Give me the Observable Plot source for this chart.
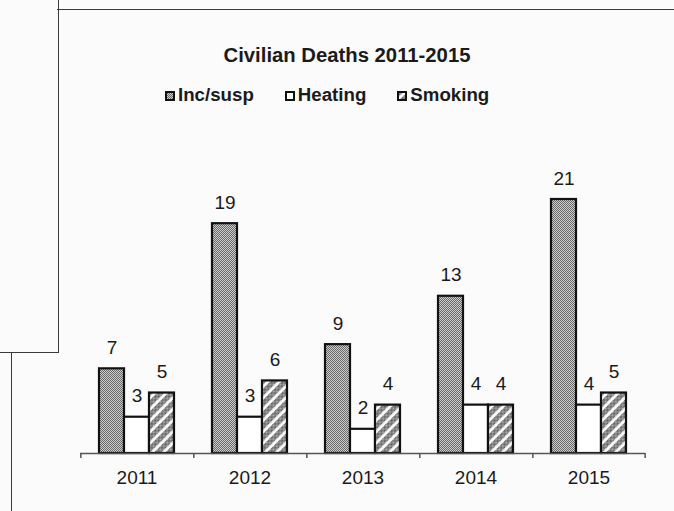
<!DOCTYPE html>
<html>
<head>
<meta charset="utf-8">
<script src="https://cdn.jsdelivr.net/npm/d3@7"></script>
<script src="https://cdn.jsdelivr.net/npm/@observablehq/plot@0.6"></script>
<style>
  html, body { margin: 0; padding: 0; background: #fbfbfb; }
  #wrap { position: relative; width: 674px; height: 511px; overflow: hidden; font-family: "Liberation Sans", Arial, sans-serif; color: #1a1a1a; }
  .line { position: absolute; background: #3a3a3a; }
  #title { position: absolute; top: 45px; left: 0; width: 694px; text-align: center; font-weight: bold; font-size: 20.3px; line-height: 20px; white-space: nowrap; }
  #legend { position: absolute; top: 86px; left: 165px; display: flex; align-items: baseline; font-weight: bold; font-size: 18.7px; line-height: 18.5px; white-space: nowrap; }
  .item { display: flex; align-items: baseline; margin-right: 31px; }
  .item svg { width: 10px; height: 10px; margin-right: 3px; position: relative; top: 0px; }
  #chart { position: absolute; left: 0; top: 120px; }
</style>
</head>
<body>
<div id="wrap">
  <svg width="0" height="0" style="position:absolute">
    <defs>
      <pattern id="incPat" patternUnits="userSpaceOnUse" width="2" height="2">
        <rect width="2" height="2" fill="#cccccc"></rect>
        <rect x="0" y="0" width="1" height="1" fill="#6a6a6a"></rect>
        <rect x="1" y="1" width="1" height="1" fill="#6a6a6a"></rect>
      </pattern>
      <pattern id="smkTex" patternUnits="userSpaceOnUse" width="2" height="2">
        <rect width="2" height="2" fill="#b4b4b4"></rect>
        <rect x="0" y="0" width="1" height="1" fill="#555555"></rect>
        <rect x="1" y="1" width="1" height="1" fill="#555555"></rect>
      </pattern>
      <pattern id="smkPat" patternUnits="userSpaceOnUse" width="8" height="8" patternTransform="rotate(45)">
        <rect width="8" height="8" fill="#fdfdfd"></rect>
        <rect x="0" y="0" width="5.2" height="8" fill="url(#smkTex)"></rect>
      </pattern>
    </defs>
  </svg>
  <div class="line" style="left:57px; top:9px; width:617px; height:1px;"></div>
  <div class="line" style="left:58px; top:0px; width:1px; height:352px;"></div>
  <div class="line" style="left:0px; top:352px; width:59px; height:1px;"></div>
  <div class="line" style="left:11px; top:352px; width:1px; height:159px;"></div>
  <div id="title"></div>
  <div id="legend"></div>
  <div id="chart"></div>
</div>
<script>
// ---- data ----
const chartTitle = "Civilian Deaths 2011-2015";
const years = ["2011", "2012", "2013", "2014", "2015"];
const seriesNames = ["Inc/susp", "Heating", "Smoking"];
const incSusp = [7, 19, 9, 13, 21];
const heating = [3, 3, 2, 4, 4];
const smoking = [5, 6, 4, 4, 5];

// ---- styles (not data) ----
const fills = ["url(#incPat)", "#ffffff", "url(#smkPat)"];

const seriesValues = [incSusp, heating, smoking];
const rows = years.flatMap((yr, i) =>
  seriesNames.map((s, k) => ({year: yr, series: s, value: seriesValues[k][i]}))
);

document.getElementById("title").textContent = chartTitle;

const legend = document.getElementById("legend");
seriesNames.forEach((s, k) => {
  const item = document.createElement("div");
  item.className = "item";
  item.innerHTML = `<svg viewBox="0 0 10 10"><rect x="1" y="1" width="8" height="8" fill="${fills[k]}" stroke="#111" stroke-width="2"></rect></svg><span></span>`;
  item.querySelector("span").textContent = s;
  legend.appendChild(item);
});

// ---- layout ----
const W = 674, H = 391;
const mL = 80, mR = 29, mT = 79, mB = 58;
const padOuter = 0.73;
const facetW = (W - mL - mR) / years.length;
const step = facetW / (seriesNames.length + 2 * padOuter);
const edgeOffset = (padOuter + 0.5) * step;

const chart = Plot.plot({
  width: W,
  height: H,
  marginLeft: mL,
  marginRight: mR,
  marginTop: mT,
  marginBottom: mB,
  style: {background: "transparent", fontFamily: "'Liberation Sans', Arial, sans-serif", color: "#1a1a1a"},
  fx: {domain: years, padding: 0, axis: null},
  x: {domain: seriesNames, paddingInner: 0, paddingOuter: padOuter, axis: null},
  y: {domain: [0, d3.max(incSusp)], axis: null},
  color: {domain: seriesNames, range: fills},
  marks: [
    Plot.barY(rows, {fx: "year", x: "series", y: "value", fill: "series", stroke: "#111", strokeWidth: 2.2}),
    Plot.ruleY([0], {stroke: "#555", strokeWidth: 1.5}),
    Plot.ruleX(years, {fx: d => d, x: () => seriesNames[0], y1: () => 0, y2: () => 0, insetBottom: -5, dx: -edgeOffset, stroke: "#555", strokeWidth: 1.5}),
    Plot.ruleX([years[years.length - 1]], {fx: d => d, x: () => seriesNames[seriesNames.length - 1], y1: () => 0, y2: () => 0, insetBottom: -5, dx: edgeOffset, stroke: "#555", strokeWidth: 1.5}),
    Plot.text(rows, {fx: "year", x: "series", y: "value", text: d => String(d.value), dy: -15, lineAnchor: "bottom", fontSize: 19, fill: "#1a1a1a"}),
    Plot.axisFx({anchor: "bottom", tickSize: 0, tickPadding: 17, label: null, fontSize: 19, fill: "#1a1a1a"})
  ]
});
document.getElementById("chart").appendChild(chart);
</script>
</body>
</html>
